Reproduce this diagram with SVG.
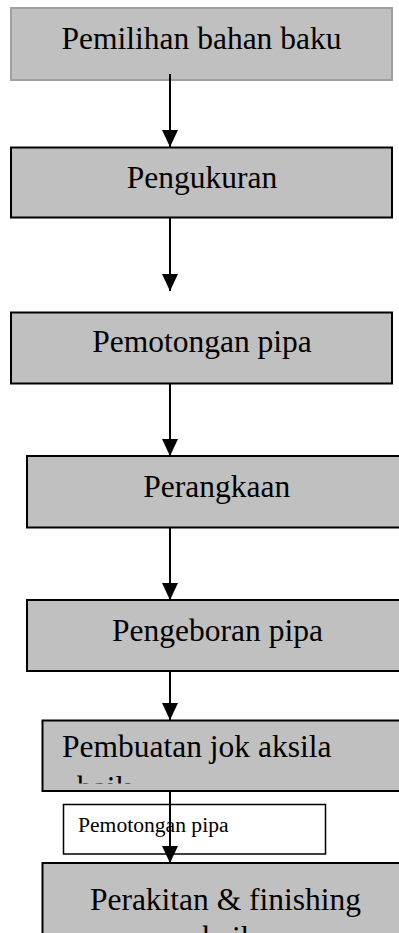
<svg xmlns="http://www.w3.org/2000/svg" width="399" height="933" viewBox="0 0 399 933">
  <style>
    .box { fill: #c0c0c0; stroke: #000; stroke-width: 2; }
    .box1 { fill: #c0c0c0; stroke: #a0a0a0; stroke-width: 2; }
    .t { font-family: "Liberation Serif", "Times New Roman", serif; font-size: 31.5px; fill: #000; }
    .tc { text-anchor: middle; }
    .small { font-family: "Liberation Serif", "Times New Roman", serif; font-size: 21.6px; fill: #000; }
    .conn { stroke: #000; stroke-width: 2; fill: none; marker-end: url(#ah); }
  </style>
  <defs>
    <marker id="ah" viewBox="0 0 17 16" refX="17" refY="8" markerWidth="17" markerHeight="16" markerUnits="userSpaceOnUse" orient="auto">
      <path d="M0,0 L17,8 L0,16 z" fill="#000"/>
    </marker>
    <clipPath id="clip6"><rect x="43" y="721" width="360" height="62.5"/></clipPath>
    <clipPath id="clip7"><rect x="43" y="864" width="360" height="70"/></clipPath>
  </defs>
  <rect width="399" height="933" fill="#fff"/>

  <g id="n1">
    <rect class="box1" x="11" y="8" width="381" height="72"/>
    <text class="t tc" x="201.5" y="49">Pemilihan bahan baku</text>
  </g>
  <g id="n2">
    <rect class="box" x="11" y="147.5" width="381" height="70"/>
    <text class="t tc" x="202" y="188">Pengukuran</text>
  </g>
  <g id="n3">
    <rect class="box" x="11" y="312.5" width="381" height="71"/>
    <text class="t tc" x="202" y="352">Pemotongan pipa</text>
  </g>
  <g id="n4">
    <rect class="box" x="27" y="456" width="400" height="71.5"/>
    <text class="t tc" x="216.7" y="497">Perangkaan</text>
  </g>
  <g id="n5">
    <rect class="box" x="27" y="600" width="400" height="71"/>
    <text class="t tc" x="217.5" y="641">Pengeboran pipa</text>
  </g>
  <g id="n6">
    <rect class="box" x="42.5" y="720.5" width="400" height="70.5"/>
    <g clip-path="url(#clip6)">
      <text class="t" x="62" y="757">Pembuatan jok aksila</text>
      <text class="t" x="77" y="797.5">baik</text>
    </g>
  </g>
  <g id="n7">
    <rect class="box" x="42.5" y="863" width="400" height="100"/>
    <g clip-path="url(#clip7)">
      <text class="t tc" x="225.5" y="910">Perakitan &amp; finishing</text>
      <text class="t tc" x="229.5" y="948">baik</text>
    </g>
  </g>
  <g id="n8">
    <rect x="63.5" y="804.5" width="262" height="49.5" fill="#fff" stroke="#000" stroke-width="1.5"/>
    <text class="small" x="78" y="832">Pemotongan pipa</text>
  </g>

  <g id="connectors">
    <line class="conn" x1="170" y1="74" x2="170" y2="147"/>
    <line class="conn" x1="170" y1="218" x2="170" y2="291"/>
    <line class="conn" x1="170" y1="384" x2="170" y2="456"/>
    <line class="conn" x1="170" y1="528" x2="170" y2="600"/>
    <line class="conn" x1="170" y1="672" x2="170" y2="720"/>
    <line class="conn" x1="170" y1="791" x2="170" y2="863"/>
  </g>
</svg>
